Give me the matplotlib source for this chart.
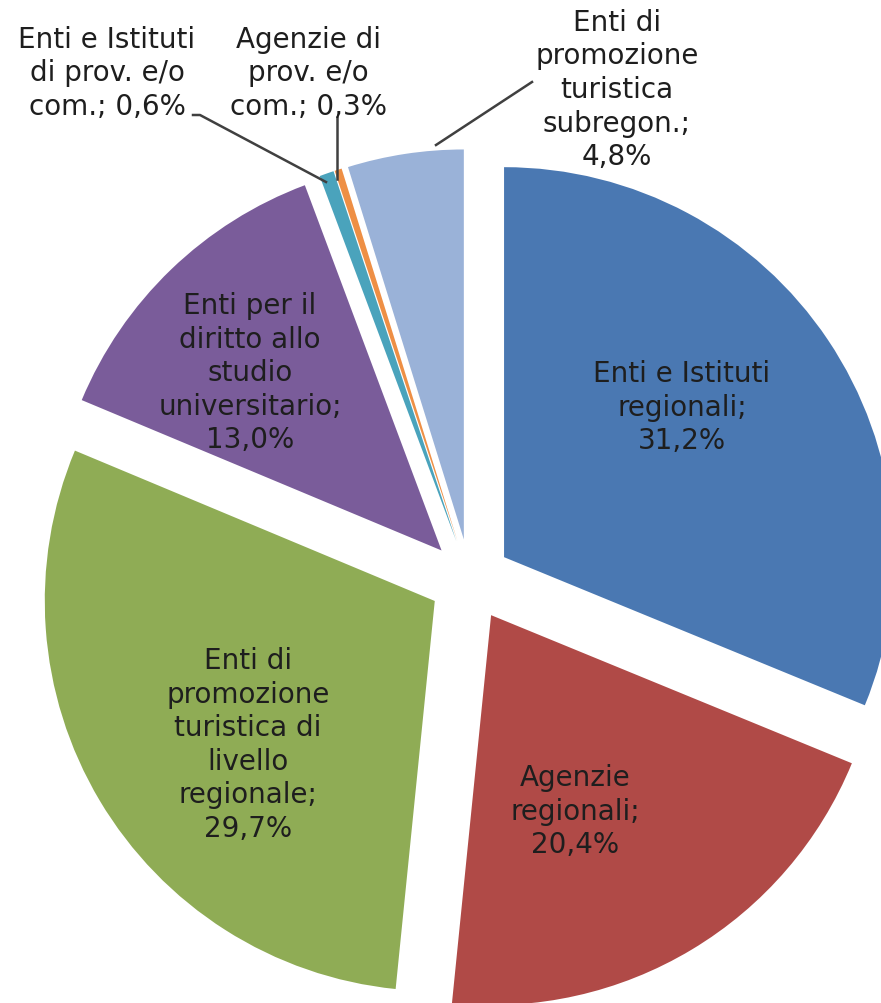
import matplotlib.pyplot as plt

# slice order: clockwise from 12 o'clock
labels = [
    'Enti e Istituti\nregionali;\n31,2%',
    'Agenzie\nregionali;\n20,4%',
    'Enti di\npromozione\nturistica di\nlivello\nregionale;\n29,7%',
    'Enti per il\ndiritto allo\nstudio\nuniversitario;\n13,0%',
    'Enti e Istituti\ndi prov. e/o\ncom.; 0,6%',
    'Agenzie di\nprov. e/o\ncom.; 0,3%',
    'Enti di\npromozione\nturistica\nsubregon.;\n4,8%',
]
shares = [31.2, 20.4, 29.7, 13.0, 0.6, 0.3, 4.8]
colors = ['#4A78B2', '#B04A47', '#8FAC55', '#7A5C9A', '#4AA3BC', '#EE8F45', '#9AB2D8']

W, H = 881, 1004


def Y(y):
    # image row -> data y
    return H - y


fig = plt.figure(figsize=(W / 100, H / 100), dpi=100)
ax = fig.add_axes([0, 0, 1, 1])

ax.pie(shares, colors=colors, startangle=90, counterclock=False,
       center=(470, Y(581)), radius=390, explode=[41] * len(shares),
       wedgeprops=dict(linewidth=0))

ax.set_xlim(0, W)
ax.set_ylim(0, H)
ax.set_aspect('equal')
ax.axis('off')

# label placement (image pixel coords)
label_pos = [(682, 408), (575, 812), (248, 745), (250, 373),
             (107, 73), (308, 73), (617, 90)]
for txt, (x, y) in zip(labels, label_pos):
    ax.text(x, Y(y), txt, ha='center', va='center', fontsize=20,
            color='#1E1E1E', linespacing=1.25, fontfamily='DejaVu Sans')

# leader lines for the small slices
leaders = [
    [(193, 116), (200, 116), (326, 183)],
    [(337, 118), (337, 180)],
    [(532, 83), (436, 146)],
]
for pts in leaders:
    ax.plot([p[0] for p in pts], [Y(p[1]) for p in pts], color='#404040', lw=1.8)

fig.savefig('out.png', dpi=100, facecolor='white')
